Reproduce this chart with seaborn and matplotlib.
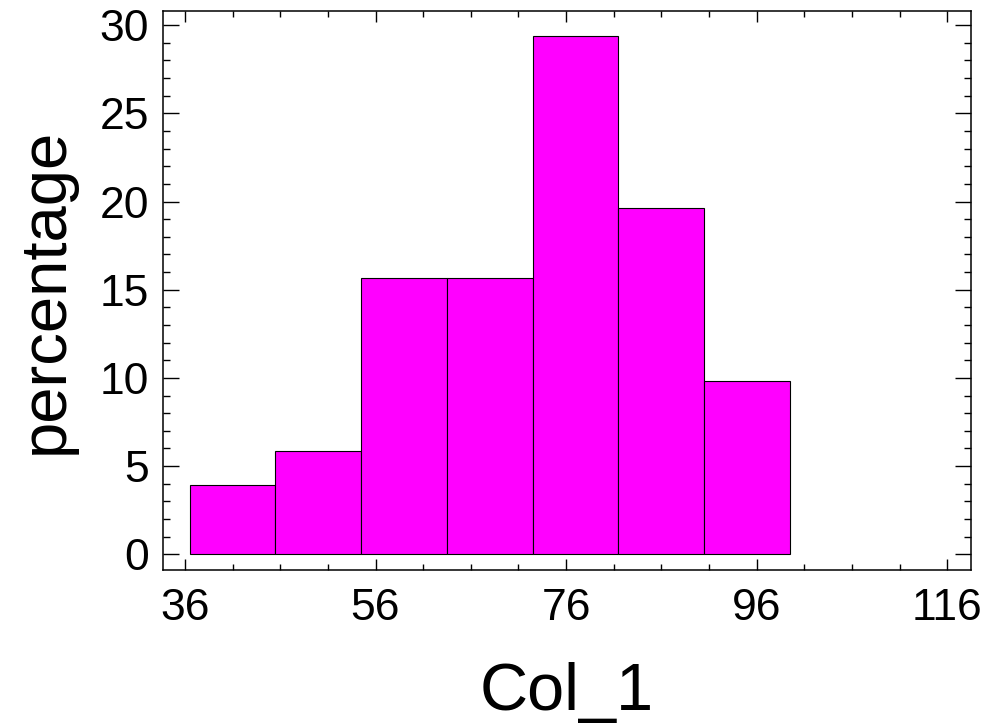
import numpy as np
import matplotlib
matplotlib.use("Agg")
import matplotlib.pyplot as plt
from matplotlib.ticker import MultipleLocator
import seaborn as sns

# Histogram bins
bin_edges = [36.5, 45.5, 54.5, 63.5, 72.5, 81.5, 90.5, 99.5]
percentages = [3.92, 5.88, 15.69, 15.69, 29.41, 19.61, 9.80]
x_ticks = [36, 56, 76, 96, 116]
y_ticks = [0, 5, 10, 15, 20, 25, 30]

bin_centers = [(a + b) / 2 for a, b in zip(bin_edges[:-1], bin_edges[1:])]

sns.set_style("ticks")
plt.rcParams['font.family'] = ['Liberation Sans', 'DejaVu Sans']
plt.rcParams['text.color'] = 'black'
plt.rcParams['axes.labelcolor'] = 'black'

fig = plt.figure(figsize=(9.9, 7.26), dpi=100)
ax = fig.add_axes([0.1643, 0.2149, 0.8165, 0.7699])

sns.histplot(x=bin_centers, weights=percentages, bins=bin_edges, stat="count",
             color="#ff00ff", edgecolor="black", linewidth=0.8, alpha=1.0, ax=ax)

ax.set_xlim(33.66, 118.5)
ax.set_ylim(-0.89, 30.8)
ax.set_xticks(x_ticks)
ax.set_yticks(y_ticks)
ax.xaxis.set_minor_locator(MultipleLocator(5, offset=1))
ax.yaxis.set_minor_locator(MultipleLocator(1))

ax.tick_params(axis="both", which="both", direction="in", top=True, right=True,
               labelsize=32, width=1.0, colors="black")
ax.tick_params(axis="x", which="major", length=8, pad=13)
ax.tick_params(axis="x", which="minor", length=4)
ax.tick_params(axis="y", which="major", length=11.5, pad=10)
ax.tick_params(axis="y", which="minor", length=5)

for s in ax.spines.values():
    s.set_visible(True)
    s.set_linewidth(1.1)
    s.set_color("black")

ax.set_xlabel("Col_1", fontsize=48, labelpad=24, color="black")
ax.set_ylabel("percentage", fontsize=47, labelpad=17, color="black")

fig.savefig("out.png", dpi=100)
